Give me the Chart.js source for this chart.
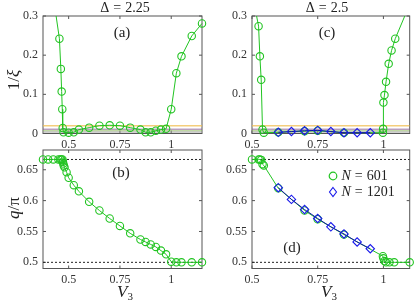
<!DOCTYPE html>
<html>
<head>
<meta charset="utf-8">
<script src="https://cdn.jsdelivr.net/npm/chart.js@4.4.0/dist/chart.umd.min.js"></script>
<style>
  body { margin: 0; background: #fff; }
  #wrap { position: relative; width: 415px; height: 302px; overflow: hidden; font-family: 'Liberation Serif', 'Times New Roman', serif; color: #222; }
  canvas { position: absolute; left: 0; top: 0; }
  .lbl { position: absolute; transform: translate(-50%, -50%); white-space: nowrap; line-height: 1; }
  .rot { transform: translate(-50%, -50%) rotate(-90deg); }
  .eq { margin: 0 4px; }
  sub { font-size: 11px; vertical-align: -3px; line-height: 0; }
</style>
</head>
<body>
<div id="wrap">
  <canvas id="pa" width="415" height="302"></canvas>
  <canvas id="pb" width="415" height="302"></canvas>
  <canvas id="pc" width="415" height="302"></canvas>
  <canvas id="pd" width="415" height="302"></canvas>

  <div class="lbl" style="left:125px;top:8px;font-size:14px">Δ<span class="eq">=</span>2.25</div>
  <div class="lbl" style="left:327px;top:8px;font-size:14px">Δ<span class="eq">=</span>2.5</div>
  <div class="lbl rot" style="left:13px;top:80px;font-size:17px">1/<i>ξ</i></div>
  <div class="lbl rot" style="left:13px;top:208px;font-size:17px"><i>q</i>/π</div>
  <div class="lbl" style="left:125px;top:291px;font-size:17px"><i>V</i><sub>3</sub></div>
  <div class="lbl" style="left:329px;top:291px;font-size:17px"><i>V</i><sub>3</sub></div>

  <div class="lbl" style="left:122px;top:32px;font-size:15px">(a)</div>
  <div class="lbl" style="left:121px;top:172px;font-size:15px">(b)</div>
  <div class="lbl" style="left:327px;top:32px;font-size:15px">(c)</div>
  <div class="lbl" style="left:292px;top:247px;font-size:15px">(d)</div>

  <div style="position:absolute;left:328px;top:168px;font-size:14px;line-height:16px;white-space:nowrap">
    <div><svg width="10" height="10" style="vertical-align:-1px"><circle cx="5" cy="5" r="3.8" fill="none" stroke="rgb(34,196,34)" stroke-width="1.2"/></svg>
      <i>N</i><span class="eq">=</span>601</div>
    <div><svg width="10" height="12" style="vertical-align:-2px"><path d="M5 1.5 L8.5 6 L5 10.5 L1.5 6 Z" fill="none" stroke="rgb(25,25,235)" stroke-width="1.1"/></svg>
      <i>N</i><span class="eq">=</span>1201</div>
  </div>
</div>

<script>
// ---- data ----
const xTicks = [0.5, 0.75, 1];
const invXiTicks = [0, 0.1, 0.2, 0.3];
const qTicks = [0.5, 0.55, 0.6, 0.65];
const refLevels = [0.0195, 0.011, 0.0077, 0.0041];

// Delta = 2.25
const v3A = [0.375, 0.4, 0.425, 0.455, 0.462, 0.466, 0.469, 0.471, 0.475, 0.5, 0.525, 0.55, 0.6, 0.65, 0.7, 0.75, 0.8, 0.85, 0.875, 0.9, 0.925, 0.95, 0.975, 1.0, 1.025, 1.05, 1.1, 1.15];
const invXiA = [0.53, 0.44, 0.35, 0.242, 0.165, 0.107, 0.062, 0.014, 0.003, 0.002, 0.003, 0.01, 0.015, 0.02, 0.021, 0.02, 0.015, 0.01, 0.003, 0.003, 0.007, 0.01, 0.012, 0.062, 0.154, 0.197, 0.249, 0.281];
const v3B = [0.375, 0.4, 0.425, 0.45, 0.46, 0.465, 0.47, 0.472, 0.474, 0.476, 0.48, 0.49, 0.5, 0.525, 0.55, 0.6, 0.65, 0.7, 0.75, 0.8, 0.85, 0.875, 0.9, 0.925, 0.95, 0.975, 1.0, 1.025, 1.05, 1.1, 1.15];
const qB = [0.6667, 0.6667, 0.6667, 0.6667, 0.6667, 0.6667, 0.6667, 0.663, 0.66, 0.657, 0.654, 0.646, 0.637, 0.625, 0.615, 0.598, 0.584, 0.571, 0.559, 0.547, 0.537, 0.533, 0.529, 0.525, 0.519, 0.513, 0.501, 0.5, 0.5, 0.5, 0.5];

// Delta = 2.5
const v3C601 = [0.5, 0.525, 0.53, 0.535, 0.54, 0.545, 0.6, 0.7, 0.75, 0.85, 0.998, 0.999, 1.0, 1.004, 1.01, 1.02, 1.031, 1.045, 1.1];
const invXiC601 = [0.36, 0.274, 0.197, 0.137, 0.01, 0.002, 0.003, 0.006, 0.007, 0.002, 0.002, 0.012, 0.079, 0.098, 0.132, 0.178, 0.212, 0.242, 0.33];
const v3C1201 = [0.6, 0.65, 0.7, 0.75, 0.8, 0.85, 0.9, 0.95];
const invXiC1201 = [0.003, 0.005, 0.007, 0.008, 0.005, 0.002, 0.002, 0.002];
const v3D601 = [0.5, 0.525, 0.53, 0.535, 0.54, 0.545, 0.6, 0.7, 0.75, 0.85, 0.998, 1.0, 1.004, 1.01, 1.023, 1.041, 1.1];
const qD601 = [0.6667, 0.6667, 0.6667, 0.666, 0.659, 0.657, 0.62, 0.584, 0.57, 0.545, 0.51, 0.5065, 0.502, 0.5, 0.5, 0.5, 0.5];
const v3D1201 = [0.6, 0.65, 0.7, 0.75, 0.8, 0.85, 0.9, 0.95];
const qD1201 = [0.621, 0.602, 0.5855, 0.571, 0.5575, 0.546, 0.533, 0.522];

// ---- styling ----
const green = 'rgb(34,196,34)';
const blue = 'rgb(25,25,235)';
const blueLine = 'rgb(15,15,170)';
const refColors = ['rgba(240,190,80,0.75)', 'rgba(140,90,150,0.55)', 'rgba(140,185,90,0.55)', 'rgba(150,150,150,0.6)'];

Chart.defaults.font.family = "'Liberation Serif', 'Times New Roman', serif";

const pts = (xs, ys) => xs.map((x, i) => ({ x: x, y: ys[i] }));

function series(xs, ys, color, line, style, order, clip) {
    return {
        data: pts(xs, ys),
        showLine: true,
        borderColor: line,
        borderWidth: 1,
        pointStyle: style,
        pointRadius: style == 'rectRot' ? 4.2 : 3.7,
        pointBorderColor: color,
        pointBackgroundColor: 'rgba(0,0,0,0)',
        pointBorderWidth: 1.1,
        order: order,
        clip: clip
    };
}

function hline(level, xr, color, dash, order) {
    return {
        data: [{ x: xr[0], y: level }, { x: xr[1], y: level }],
        showLine: true,
        borderColor: color,
        borderWidth: dash ? 1 : 1.5,
        borderDash: dash || [],
        pointRadius: 0,
        order: order
    };
}

const boxPlugin = {
    id: 'box',
    beforeDatasetsDraw(chart) {
        const { ctx, chartArea: a, scales: { x, y } } = chart;
        ctx.save();
        ctx.strokeStyle = '#555';
        ctx.lineWidth = 1;
        ctx.strokeRect(a.left, a.top, a.right - a.left, a.bottom - a.top);
        ctx.beginPath();
        x.ticks.forEach(t => {
            const px = x.getPixelForValue(t.value);
            ctx.moveTo(px, a.bottom); ctx.lineTo(px, a.bottom - 3);
            ctx.moveTo(px, a.top); ctx.lineTo(px, a.top + 3);
        });
        y.ticks.forEach(t => {
            const py = y.getPixelForValue(t.value);
            ctx.moveTo(a.left, py); ctx.lineTo(a.left + 3, py);
            ctx.moveTo(a.right, py); ctx.lineTo(a.right - 3, py);
        });
        ctx.stroke();
        ctx.restore();
    }
};

const fmt = v => String(Math.round(v * 100) / 100);

function panel(id, area, xr, yr, yTicks, datasets) {
    new Chart(document.getElementById(id), {
        type: 'scatter',
        data: { datasets: datasets },
        options: {
            responsive: false,
            animation: false,
            events: [],
            layout: { padding: { left: area.l - 30, top: area.t, right: 415 - area.r, bottom: 302 - area.b - 16 } },
            plugins: { legend: { display: false }, tooltip: { enabled: false } },
            scales: {
                x: {
                    type: 'linear', min: xr[0], max: xr[1],
                    grid: { display: false, drawTicks: false }, border: { display: false },
                    ticks: { padding: 4, color: '#333', font: { size: 12 }, maxRotation: 0, autoSkip: false, callback: fmt },
                    afterBuildTicks: s => { s.ticks = xTicks.map(v => ({ value: v })); },
                    afterFit: s => { s.height = 16; }
                },
                y: {
                    type: 'linear', min: yr[0], max: yr[1],
                    grid: { display: false, drawTicks: false }, border: { display: false },
                    ticks: { padding: 5, color: '#333', font: { size: 12 }, autoSkip: false, callback: fmt },
                    afterBuildTicks: s => { s.ticks = yTicks.map(v => ({ value: v })); },
                    afterFit: s => { s.width = 30; }
                }
            }
        },
        plugins: [boxPlugin]
    });
}

const xrL = [0.375, 1.15];
const xrR = [0.5, 1.1];
const topClip = { left: 6, top: 0, right: 6, bottom: 6 };

panel('pa', { l: 43, t: 16, r: 202, b: 133.5 }, xrL, [0, 0.3], invXiTicks, [
    series(v3A, invXiA, green, green, 'circle', 0, topClip),
    ...refLevels.map((lv, i) => hline(lv, xrL, refColors[i], null, 5))
]);

panel('pb', { l: 43, t: 150, r: 202, b: 268.5 }, xrL, [0.49, 0.682], qTicks, [
    series(v3B, qB, green, green, 'circle', 0, 6),
    hline(2 / 3, xrL, '#222', [2, 2], 5),
    hline(0.5, xrL, '#222', [2, 2], 5)
]);

panel('pc', { l: 252, t: 16, r: 412, b: 133.5 }, xrR, [0, 0.3], invXiTicks, [
    series(v3C1201, invXiC1201, blue, blueLine, 'rectRot', 0, topClip),
    series(v3C601, invXiC601, green, green, 'circle', 1, topClip),
    ...refLevels.map((lv, i) => hline(lv, xrR, refColors[i], null, 5))
]);

panel('pd', { l: 252, t: 150, r: 412, b: 268.5 }, xrR, [0.49, 0.682], qTicks, [
    series(v3D1201, qD1201, blue, blueLine, 'rectRot', 0, 6),
    series(v3D601, qD601, green, green, 'circle', 1, 6),
    hline(2 / 3, xrR, '#222', [2, 2], 5),
    hline(0.5, xrR, '#222', [2, 2], 5)
]);
</script>
</body>
</html>
